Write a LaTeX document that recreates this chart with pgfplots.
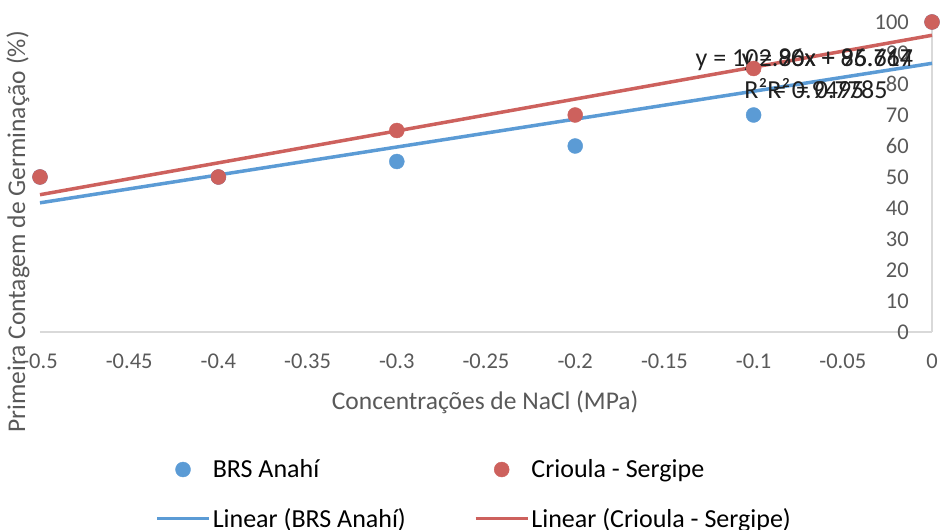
\documentclass[border=0pt]{standalone}
\usepackage{fontspec}
\setmainfont{Carlito}
\usepackage{pgfplots}
\pgfplotsset{compat=1.18}
\definecolor{cblue}{HTML}{5B9BD5}
\definecolor{cred}{HTML}{CD615D}
\definecolor{axgray}{HTML}{D9D9D9}
\definecolor{txtgray}{HTML}{595959}
\newcommand{\tickfont}{\fontsize{22.5pt}{27pt}\selectfont}
\newcommand{\bigfont}{\fontsize{25.5pt}{32pt}\selectfont}
\newcommand{\legfont}{\fontsize{26pt}{32pt}\selectfont}
\pgfplotsset{
  markleg/.style={legend image code/.code={\path (0pt,0pt) (52pt,0pt); \draw[##1] plot coordinates {(26pt,0pt)};}},
  lineleg/.style={legend image code/.code={\draw[##1] (0pt,0pt) -- (52pt,0pt);}},
}
\begin{document}
\begin{tikzpicture}
\path[use as bounding box] (0,0) rectangle (940pt,530pt);
\begin{axis}[
  at={(40pt,198pt)}, anchor=south west,
  width=892pt, height=310pt, scale only axis,
  xmin=-0.5, xmax=0, ymin=0, ymax=100,
  clip=false,
  axis x line*=bottom, axis y line*=right,
  axis line style={axgray, line width=1.5pt, -},
  major tick length=0pt,
  xtick={-0.5,-0.45,-0.4,-0.35,-0.3,-0.25,-0.2,-0.15,-0.1,-0.05,0},
  xticklabels={{-0.5},{-0.45},{-0.4},{-0.35},{-0.3},{-0.25},{-0.2},{-0.15},{-0.1},{-0.05},{0}},
  ytick={0,10,20,30,40,50,60,70,80,90,100},
  /pgf/number format/assume math mode=true,
  ticklabel style={font=\tickfont, text=txtgray, inner sep=0pt},
  xticklabel style={anchor=base, yshift=-37pt},
  yticklabel style={anchor=east, xshift=-23pt},
  xlabel={Concentrações de NaCl (MPa)},
  ylabel={Primeira Contagem de Germinação (\%)},
  label style={font=\bigfont, text=txtgray},
  xlabel style={at={(axis description cs:0.499,-0.226)}, anchor=center},
  ylabel style={at={(axis description cs:-0.0247,0.3226)}, anchor=center},
  legend columns=2,
  legend cell align=left,
  legend style={draw=none, fill=none, font=\legfont, text=black,
    at={(axis description cs:0.129,-0.405)}, anchor=north west,
    inner sep=0pt, row sep=25pt,
    nodes={inner sep=2pt},
    /tikz/every even column/.append style={column sep=66pt}},
]
\addplot[only marks, mark=*, mark size=7.5pt, color=cblue, markleg]
  coordinates {(-0.5,50) (-0.4,50) (-0.3,55) (-0.2,60) (-0.1,70) (0,100)};
\addlegendentry{BRS Anahí}
\addplot[only marks, mark=*, mark size=7.5pt, color=cred, markleg]
  coordinates {(-0.5,50) (-0.4,50) (-0.3,65) (-0.2,70) (-0.1,85) (0,100)};
\addlegendentry{Crioula - Sergipe}
\addplot[cblue, line width=3.5pt, mark=none, lineleg]
  coordinates {(-0.5,41.667) (0,86.667)};
\addlegendentry{Linear (BRS Anahí)}
\addplot[cred, line width=3.5pt, mark=none, lineleg]
  coordinates {(-0.5,44.286) (0,95.714)};
\addlegendentry{Linear (Crioula - Sergipe)}
\node[font=\legfont, align=center, anchor=north east, inner sep=0pt, text=black!88] at (axis cs:-0.0105,91.3) {y = 90x + 86.667\\R² = 0.7785};
\node[font=\legfont, align=center, anchor=north east, inner sep=0pt, text=black!88] at (axis cs:-0.0105,91.3) {y = 102.86x + 95.714\\R² = 0.9495};
\end{axis}
\end{tikzpicture}
\end{document}
